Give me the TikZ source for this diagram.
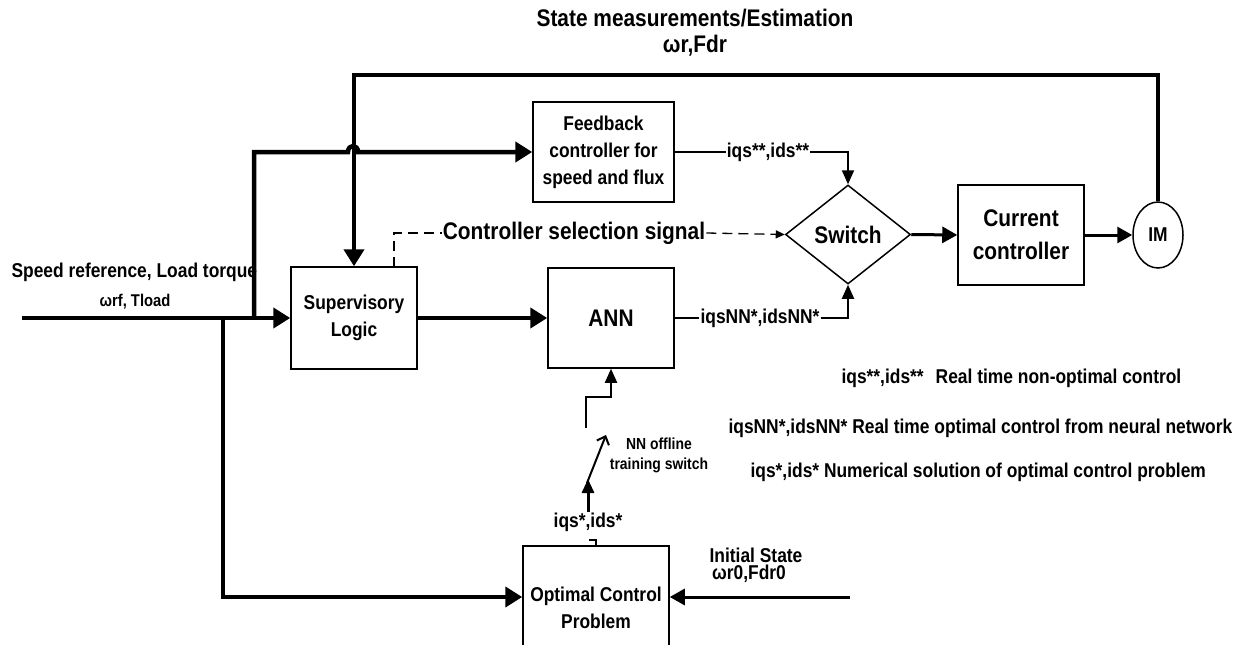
\documentclass[tikz,border=0pt]{standalone}
\usepackage{fontspec}
\setmainfont{Liberation Sans}[FakeStretch=0.87]
\usetikzlibrary{arrows.meta,shapes.geometric}
\begin{document}
\begin{tikzpicture}[x=1pt,y=-1pt,
  font=\bfseries\fontsize{20}{27}\selectfont,
  bigfont/.style={font=\bfseries\fontsize{24}{33}\selectfont},
  smallfont/.style={font=\bfseries\fontsize{16}{20}\selectfont},
  box/.style={draw, line width=1.5pt, align=center, inner sep=0pt},
  lbl/.style={inner sep=1pt, align=center},
  heavy/.style={line width=4.5pt},
  medium/.style={line width=3pt},
  light/.style={line width=2pt},
  bigtip/.style={-{Triangle[length=17pt,width=20pt]}},
  midtip/.style={-{Triangle[length=15pt,width=16pt]}},
  smalltip/.style={-{Triangle[length=14pt,width=12pt]}},
  dashtip/.style={-{Triangle[length=9pt,width=8pt]}},
  sigdash/.style={line width=1.3pt, dash pattern=on 10pt off 6pt}
]
\useasboundingbox (0,0) rectangle (1259,645);
\clip (0,0) rectangle (1259,645);

% blocks
\node[box, minimum width=126pt, minimum height=102pt] (sl) at (354,318) {Supervisory\\Logic};
\node[box, minimum width=141pt, minimum height=100pt] (fb) at (603.5,152) {Feedback\\controller for\\speed and flux};
\node[box, bigfont, minimum width=126pt, minimum height=100pt] (ann) at (611,318) {ANN};
\node[diamond, draw, line width=1.5pt, bigfont, minimum width=125pt, minimum height=99pt, inner sep=0pt] (sw) at (848,234.5) {Switch};
\node[box, bigfont, align=center, minimum width=126pt, minimum height=100pt] (cc) at (1021,235) {Current\\controller};
\node[ellipse, draw, line width=1.5pt, minimum width=50pt, minimum height=66pt, inner sep=0pt] (im) at (1158,235) {IM};
\node[box, minimum width=146pt, minimum height=124pt] (ocp) at (596,608) {Optimal Control\\Problem};

% texts
\node[bigfont] (title) at (695,18) {State measurements/Estimation};
\node[bigfont] (meas) at (695,46) {ωr,Fdr};
\node[anchor=west] (spd) at (8,272) {Speed reference, Load torque};
\node[font=\bfseries\fontsize{17}{20}\selectfont] (wrf) at (135,302) {ωrf, Tload};
\node[lbl, bigfont] (css) at (574,233) {Controller selection signal};
\node[lbl] (l1) at (768,152) {iqs**,ids**};
\node[lbl] (l2) at (760,318) {iqsNN*,idsNN*};
\node[lbl, inner sep=0pt] (l3) at (588,522) {iqs*,ids*};
\node[smallfont, align=center] (nnsw) at (659,455) {NN offline\\training switch};
\node (init) at (756,555) {Initial State};
\node (init2) at (749,574) {ωr0,Fdr0};
\node[anchor=west] (leg1) at (838,378) {iqs**,ids**\hspace{12pt}Real time non-optimal control};
\node[anchor=west] (leg2) at (725,428) {iqsNN*,idsNN* Real time optimal control from neural network};
\node[anchor=west] (leg3) at (747,472) {iqs*,ids* Numerical solution of optimal control problem};

% coordinates
\coordinate (in) at (22,318);
\coordinate (j1) at (223,318);
\coordinate (j2) at (254,318);
\coordinate (top) at (0,75);
\coordinate (fbl) at (0,152);
\coordinate (ocpl) at (0,597);
\coordinate (ocpin) at (850,597);
\coordinate (ds) at (394,267);
\coordinate (kink) at (589,540);
\coordinate (c1) at (588,479);
\coordinate (lev0) at (587,483);
\coordinate (lev1) at (606,435);
\coordinate (c2) at (586,428);
\coordinate (c3) at (611,397);

% heavy lines
\draw[heavy, bigtip] (in) -- (sl.west);
\draw[heavy] (j1) -- (j2);
\draw[heavy, bigtip] (j2) |- (348,152) .. controls (348,144) and (358,144) .. (358,152) -- (fb.west);
\draw[heavy, bigtip] (j1) |- (ocp.west |- ocpl);
\draw[heavy, bigtip] (im.north) -- (im.north |- top) -- (sl.north |- top) -- (sl.north);
\draw[heavy, bigtip] (sl.east) -- (ann.west);

% outputs to switch
\draw[light] (fb.east) -- (l1.west);
\draw[light, smalltip] (l1.east) -| (sw.north);
\draw[light] (ann.east) -- (l2.west);
\draw[light, smalltip] (l2.east) -| (sw.south);

\draw[medium, midtip] (sw.east) -- (cc.west);
\draw[medium, midtip] (cc.east) -- (im.west);

% selection signal
\draw[sigdash] (ds) |- (css.west);
\draw[sigdash, dashtip] (css.east) -- (sw.west);

% optimal control branch
\draw[medium, midtip] (ocpin) -- (ocpin -| ocp.east);
\draw[light] (ocp.north) |- (kink);
\draw[medium, smalltip] (l3.north) -- (c1);
\draw[light, -{Straight Barb[length=7pt,width=13pt]}] (lev0) -- (lev1);
\draw[light, smalltip] (c2) |- (c3) -- (ann.south);
\end{tikzpicture}
\end{document}
